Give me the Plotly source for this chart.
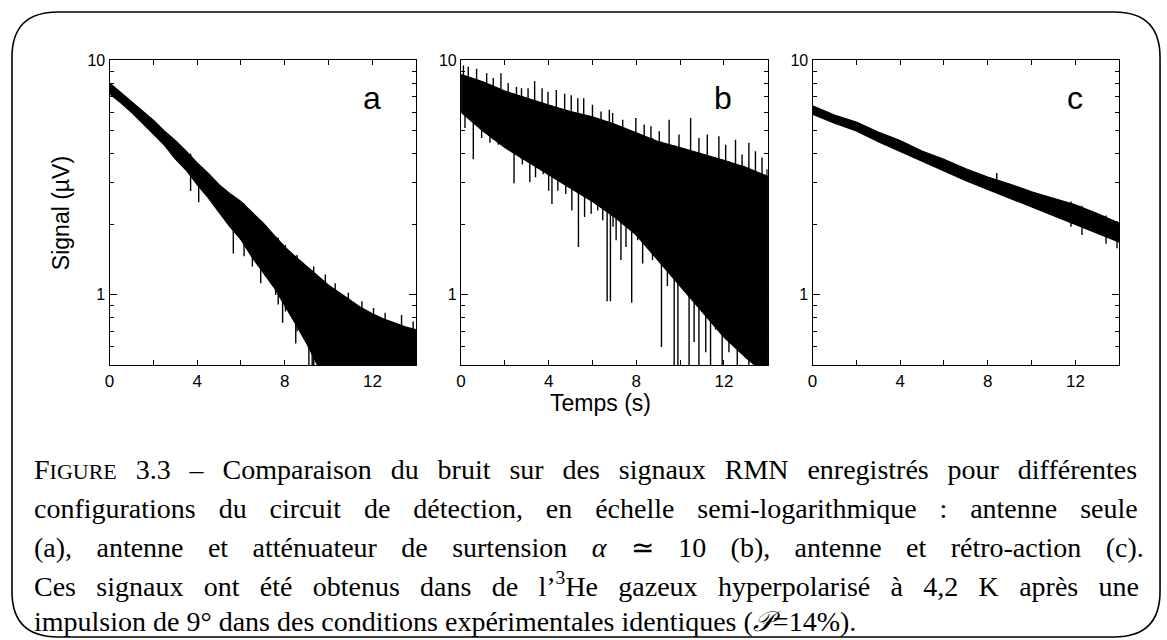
import plotly.graph_objects as go

W, H = 1167, 640

# ---------------- data (signal in µV, time in s) ----------------
# (a) antenne seule : dense band, upper / lower edges
t_a = [0, 0.5, 1, 1.5, 2, 2.5, 3, 3.5, 4, 4.5, 5, 5.5, 6, 6.5, 7, 7.5, 8, 8.5,
       9, 9.5, 10, 10.5, 11, 11.5, 12, 12.5, 13, 13.5, 14]
up_a = [8.0, 7.3, 6.7, 6.1, 5.55, 5.0, 4.55, 4.1, 3.65, 3.3, 2.95, 2.7, 2.5, 2.25,
        2.03, 1.8, 1.6, 1.45, 1.32, 1.2, 1.1, 1.02, 0.95, 0.88, 0.83, 0.79, 0.76,
        0.73, 0.71]
lo_a = [7.2, 6.6, 6.0, 5.4, 4.85, 4.35, 3.8, 3.4, 2.95, 2.6, 2.25, 1.95, 1.72,
        1.45, 1.25, 1.08, 0.9, 0.75, 0.62, 0.5, 0.4, 0.4, 0.4, 0.4, 0.4, 0.4,
        0.4, 0.4, 0.4]
# isolated excursions (time, max, min)
sp_t_a = [3.7, 4.07, 4.32, 5.15, 5.65, 5.83, 6.14, 6.52, 6.74, 6.9, 7.12, 7.58,
          7.7, 7.9, 8.03, 8.5, 8.56, 9.1, 9.25, 9.32, 9.85, 10.3, 10.9, 11.52,
          12.05, 12.58, 13.33, 13.86]
sp_hi_a = [4.0, 3.6, 3.43, 2.83, 2.65, 2.52, 2.45, 2.25, 2.11, 2.07, 1.98, 1.74,
           1.75, 1.65, 1.63, 1.45, 1.48, 1.3, 1.27, 1.32, 1.22, 1.12, 1.02, 0.94,
           0.88, 0.84, 0.82, 0.77]
sp_lo_a = [2.77, 2.48, 3.0, 2.3, 1.5, 1.9, 1.46, 1.32, 1.4, 1.12, 1.2, 1.0, 0.91,
           0.76, 0.85, 0.62, 0.7, 0.4, 0.4, 0.5, 0.4, 0.4, 0.4, 0.4, 0.4, 0.4,
           0.4, 0.4]

# (b) antenne + atténuateur de surtension
t_b = [0, 1, 2, 3, 4, 5, 6, 7, 8, 9, 10, 11, 12, 13, 14]
up_b = [8.7, 8.1, 7.4, 6.9, 6.45, 6.05, 5.75, 5.35, 4.9, 4.5, 4.25, 4.0, 3.75,
        3.5, 3.2]
lo_b = [6.0, 5.0, 4.25, 3.72, 3.25, 2.85, 2.5, 2.15, 1.8, 1.41, 1.09, 0.85, 0.66,
        0.54, 0.45]
sp_t_b = [0.11, 0.33, 0.71, 1.17, 1.47, 1.82, 2.15, 2.53, 2.76, 3.06, 3.36, 3.70,
          3.97, 4.35, 4.73, 5.03, 5.33, 5.6, 6.0, 6.39, 6.77, 6.92, 7.38, 7.98,
          8.36, 8.67, 9.05, 9.5, 9.95, 10.48, 10.86, 11.24, 11.77, 12.08, 12.53,
          12.83, 13.14, 13.44, 13.74, 13.97,
          0.18, 0.56, 0.94, 1.32, 1.7, 2.08, 2.42, 2.8, 3.14, 3.4, 3.75, 4.0,
          4.15, 4.42, 4.78, 5.06, 5.36, 5.64, 5.94, 6.24, 6.47, 6.67, 6.82, 6.94,
          7.08, 7.30, 7.53, 7.79, 8.06, 8.29, 8.74, 9.15, 9.42, 9.73, 9.9, 10.18,
          10.41, 10.64, 10.86, 11.17, 11.39, 11.62, 11.92, 12.23, 12.61, 12.91,
          13.14, 13.44, 13.74, 13.97]
sp_hi_b = [9.5, 9.4, 9.2, 8.8, 8.4, 8.8, 8.0, 7.7, 7.6, 7.6, 8.15, 7.6, 7.35, 7.47,
           7.2, 7.1, 6.9, 6.9, 6.46, 6.05, 6.15, 5.96, 5.58, 5.68, 5.32, 5.24,
           4.99, 5.58, 4.83, 5.68, 4.67, 4.83, 4.75, 4.37, 4.59, 3.97, 4.45, 4.1,
           3.85, 3.43,
           8.6, 8.4, 8.1, 7.9, 7.6, 7.4, 7.2, 7.05, 6.85, 6.75, 6.6, 6.45, 6.4,
           6.3, 6.15, 6.05, 5.95, 5.85, 5.75, 5.65, 5.55, 5.5, 5.45, 5.4, 5.3,
           5.2, 5.1, 5.0, 4.9, 4.8, 4.65, 4.5, 4.4, 4.35, 4.25, 4.2, 4.15, 4.1,
           4.05, 3.95, 3.9, 3.85, 3.78, 3.7, 3.6, 3.55, 3.48, 3.4, 3.3, 3.2]
sp_lo_b = [6.0, 5.7, 5.3, 4.9, 4.6, 4.4, 4.2, 3.95, 3.8, 3.7, 3.55, 3.4, 3.25,
           3.1, 2.95, 2.85, 2.75, 2.65, 2.5, 2.4, 2.25, 2.2, 2.0, 1.8, 1.7, 1.55,
           1.4, 1.25, 1.1, 0.98, 0.88, 0.8, 0.72, 0.66, 0.6, 0.56, 0.54, 0.5,
           0.48, 0.45,
           5.15, 3.79, 4.67, 4.45, 4.37, 4.24, 2.99, 3.6, 3.02, 3.17, 3.27, 2.78,
           2.44, 2.78, 2.69, 2.29, 1.6, 2.15, 2.22, 2.29, 2.08, 0.94, 0.94, 1.95,
           1.71, 1.41, 1.6, 0.925, 1.71, 1.36, 1.41, 0.6, 1.09, 0.4, 0.4, 1.16,
           0.4, 0.63, 0.4, 0.57, 0.4, 0.71, 0.4, 0.57, 0.4, 0.65, 0.4, 0.4, 0.4,
           0.4]

# (c) antenne + rétro-action
t_c = [0, 1, 2, 3, 4, 5, 6, 7, 8, 9, 10, 11, 12, 13, 14]
up_c = [6.4, 5.85, 5.45, 4.95, 4.55, 4.1, 3.78, 3.45, 3.18, 2.97, 2.75, 2.58,
        2.42, 2.22, 2.02]
lo_c = [5.9, 5.4, 5.0, 4.5, 4.1, 3.72, 3.38, 3.07, 2.8, 2.58, 2.37, 2.18, 2.0,
        1.83, 1.68]
sp_t_c = [6.22, 8.41, 11.8, 12.3, 13.4, 13.9]
sp_hi_c = [3.62, 3.31, 2.5, 2.4, 2.18, 2.06]
sp_lo_c = [3.3, 2.9, 1.95, 1.8, 1.65, 1.58]

panel_letters = ["a", "b", "c"]
x_major = [0, 4, 8, 12]
x_minor = [2, 6, 10]
y_major = [1, 10]
y_minor = [0.5, 0.6, 0.7, 0.8, 0.9, 2, 3, 4, 5, 6, 7, 8, 9]

# ---------------- layout geometry (pixels) ----------------
panel_left = [105, 458, 811]
panel_w = 308
panel_top, panel_bot = 53, 362


def px_x(x):
    return x / W


def px_y(y):
    return 1 - y / H


fig = go.Figure()

series = [(t_a, up_a, lo_a, sp_t_a, sp_hi_a, sp_lo_a),
          (t_b, up_b, lo_b, sp_t_b, sp_hi_b, sp_lo_b),
          (t_c, up_c, lo_c, sp_t_c, sp_hi_c, sp_lo_c)]

for i, (t, up, lo, st, shi, slo) in enumerate(series):
    xa = "x" if i == 0 else f"x{i + 1}"
    ya = "y" if i == 0 else f"y{i + 1}"
    # dense noise band
    fig.add_trace(go.Scatter(
        x=list(t) + list(t)[::-1], y=list(up) + list(lo)[::-1],
        fill="toself", fillcolor="black", mode="lines",
        line=dict(color="black", width=1.2),
        xaxis=xa, yaxis=ya, showlegend=False, hoverinfo="skip"))
    # isolated excursions drawn as vertical strokes
    sx, sy = [], []
    for tt, hi, lo_ in zip(st, shi, slo):
        sx += [tt, tt, None]
        sy += [hi, lo_, None]
    fig.add_trace(go.Scatter(
        x=sx, y=sy, mode="lines", line=dict(color="black", width=1.4),
        xaxis=xa, yaxis=ya, showlegend=False, hoverinfo="skip"))

sans = "Liberation Sans, Arial, sans-serif"

for i in range(3):
    sfx = "" if i == 0 else str(i + 1)
    x0 = panel_left[i]
    fig.update_layout(**{
        f"xaxis{sfx}": dict(
            domain=[px_x(x0), px_x(x0 + panel_w)], range=[0, 14],
            anchor=f"y{sfx}", showgrid=False, zeroline=False,
            showline=True, linecolor="black", linewidth=1.3, mirror="ticks",
            ticks="inside", ticklen=5, tickwidth=1, tickcolor="black",
            tickvals=x_major, ticktext=[str(v) for v in x_major],
            tickfont=dict(family=sans, size=17, color="black"),
            minor=dict(tickvals=x_minor, ticks="inside", ticklen=5,
                       tickwidth=1, tickcolor="black", showgrid=False)),
        f"yaxis{sfx}": dict(
            domain=[px_y(panel_bot), px_y(panel_top)], type="log",
            range=[-0.30103, 1], anchor=f"x{sfx}", showgrid=False,
            zeroline=False, showline=True, linecolor="black", linewidth=1.3,
            mirror="ticks", ticks="inside", ticklen=7, tickwidth=1,
            tickcolor="black", tickvals=y_major, ticktext=["1", "10"],
            tickfont=dict(family=sans, size=16, color="black"),
            minor=dict(tickvals=y_minor, ticks="inside", ticklen=4,
                       tickwidth=1, tickcolor="black", showgrid=False)),
    })
    fig.add_annotation(
        text=panel_letters[i], xref=f"x{sfx} domain", yref=f"y{sfx} domain",
        x=0.855, y=0.875, showarrow=False, xanchor="center", yanchor="middle",
        font=dict(family=sans, size=32, color="black"))

# axis titles
fig.add_annotation(text="Signal (µV)", xref="paper", yref="paper",
                   x=px_x(57), y=px_y(208), textangle=-90, showarrow=False,
                   xanchor="center", yanchor="middle",
                   font=dict(family=sans, size=23, color="black"))
fig.add_annotation(text="Temps (s)", xref="paper", yref="paper",
                   x=px_x(598), y=px_y(400), showarrow=False,
                   xanchor="center", yanchor="middle",
                   font=dict(family=sans, size=23, color="black"))

# caption, lines justified through word spacing
caption = [
    "F<span style='font-size:22px'>IGURE</span> 3.3 – Comparaison du bruit sur des "
    "signaux RMN enregistrés pour différentes",
    "configurations du circuit de détection, en échelle semi-logarithmique : "
    "antenne seule",
    "(a), antenne et atténuateur de surtension <i>α</i> ≃ 10 (b), antenne et "
    "rétro-action (c).",
    "Ces signaux ont été obtenus dans de l’<sup>3</sup>He gazeux hyperpolarisé "
    "à 4,2 K après une",
    "impulsion de 9° dans des conditions expérimentales identiques "
    "(<i>𝒫</i>=14%).",
]
cap_space = [11.9, 15.9, 17.4, 13.3, 0]
cap_y = [467, 507, 546, 584, 621]
for line, ws, yy in zip(caption, cap_space, cap_y):
    fig.add_annotation(text=f"<span style='word-spacing:{ws}px'>{line}</span>",
                       xref="paper", yref="paper", x=px_x(27),
                       y=px_y(yy), showarrow=False, xanchor="left",
                       yanchor="middle",
                       font=dict(family="Liberation Serif, serif", size=28,
                                 color="black"))

# rounded frame around figure + caption
bx0, by0, bx1, by1, r = 7, 4, 1160, 637, 46


def P(x, y):
    return f"{px_x(x):.5f},{px_y(y):.5f}"


frame_path = (f"M {P(bx0 + r, by0)} L {P(bx1 - r, by0)} Q {P(bx1, by0)} {P(bx1, by0 + r)} "
              f"L {P(bx1, by1 - r)} Q {P(bx1, by1)} {P(bx1 - r, by1)} "
              f"L {P(bx0 + r, by1)} Q {P(bx0, by1)} {P(bx0, by1 - r)} "
              f"L {P(bx0, by0 + r)} Q {P(bx0, by0)} {P(bx0 + r, by0)} Z")
fig.add_shape(type="path", path=frame_path, xref="paper", yref="paper",
              line=dict(color="black", width=1.6))

fig.update_layout(width=W, height=H, margin=dict(l=0, r=0, t=0, b=0),
                  paper_bgcolor="white", plot_bgcolor="white")

fig.write_html("out.html")
